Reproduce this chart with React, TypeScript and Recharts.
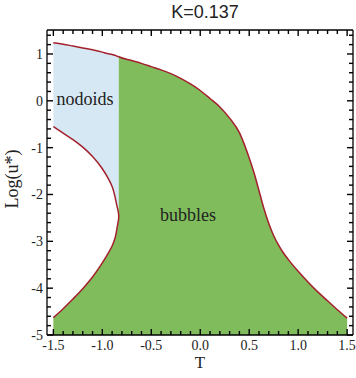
import React from 'react';
import { ComposedChart, Area, Line, XAxis, YAxis } from 'recharts';

// upper boundary curve (T, Log u*)
const upperT = [-1.5, -1.4, -1.3, -1.2, -1.1, -1.0, -0.95, -0.9, -0.87, -0.855, -0.845, -0.838, -0.834, -0.832, -0.7, -0.6, -0.5, -0.4, -0.3, -0.2, -0.1, 0.0, 0.1, 0.2, 0.3, 0.4, 0.45, 0.5, 0.55, 0.6, 0.65, 0.7, 0.75, 0.8, 0.85, 0.9, 1.0, 1.1, 1.2, 1.3, 1.4, 1.5];
const upperL = [1.24, 1.21, 1.17, 1.13, 1.09, 1.04, 1.01, 0.99, 0.97, 0.96, 0.95, 0.945, 0.942, 0.94, 0.86, 0.8, 0.73, 0.66, 0.58, 0.48, 0.36, 0.22, 0.05, -0.13, -0.37, -0.68, -0.93, -1.22, -1.54, -1.92, -2.3, -2.62, -2.88, -3.08, -3.25, -3.39, -3.64, -3.87, -4.08, -4.27, -4.46, -4.64];

// left "nose" curve, both branches on the same T grid
const noseT = [-1.5, -1.4, -1.3, -1.2, -1.1, -1.0, -0.95, -0.9, -0.87, -0.855, -0.845, -0.838, -0.834, -0.832];
const noseTop = [-0.55, -0.69, -0.83, -0.99, -1.19, -1.45, -1.62, -1.83, -2.05, -2.2, -2.29, -2.36, -2.42, -2.47];
const noseBottom = [-4.63, -4.44, -4.23, -4.01, -3.76, -3.46, -3.29, -3.1, -2.93, -2.78, -2.66, -2.58, -2.52, -2.47];

const xMajor = [-1.5, -1.0, -0.5, 0.0, 0.5, 1.0, 1.5];
const xLabels = ['-1.5', '-1.0', '-0.5', '0.0', '0.5', '1.0', '1.5'];
const yMajor = [-5, -4, -3, -2, -1, 0, 1];
const yLabels = ['-5', '-4', '-3', '-2', '-1', '0', '1'];

const xMinor = Array.from({ length: 31 }, (_, i) => Math.round((-1.5 + i * 0.1) * 10) / 10);
const yMinor = Array.from({ length: 33 }, (_, i) => Math.round((-5 + i * 0.2) * 10) / 10);

const GREEN = '#80bc5c';
const BLUE = '#d6e8f3';
const RED = '#a3202c';
const SERIF = 'Liberation Serif, DejaVu Serif, serif';
const X_DOMAIN = [-1.565, 1.56];
const Y_DOMAIN = [-5, 1.512];

const lowerData = noseT.map((t, i) => ({ t, band: [-5, noseBottom[i]] }));
const upperData = upperT.map((t, i) => ({ t, band: [-5, upperL[i]] })).filter((d) => d.t >= -0.832);
const greenData = [...lowerData, ...upperData];

const blueData = noseT.map((t, i) => ({ t, band: [noseTop[i], upperL[upperT.indexOf(t)]] }));

const upperLine = upperT.map((t, i) => ({ t, v: upperL[i] }));
const noseLine = [
  ...noseT.map((t, i) => ({ t, v: noseTop[i] })),
  ...noseT.slice(0, -1).map((t, i) => ({ t, v: noseBottom[i] })).reverse(),
];

const idx = (arr: number[], v: number) => arr.findIndex((m) => Math.abs(m - v) < 1e-6);

const tickStroke = { stroke: '#000', strokeWidth: 1.4, fill: 'none' };

const BottomTick = (props: any) => {
  const { x, y, payload } = props;
  const k = idx(xMajor, payload.value);
  return (
    <g>
      <path d={`M${x},${y}V${y - (k >= 0 ? 6 : 4)}`} style={tickStroke} />
      {k >= 0 && (
        <text x={x} y={y + 15} textAnchor="middle" fontFamily={SERIF} fontSize={14} fill="#222" stroke="none">
          {xLabels[k]}
        </text>
      )}
    </g>
  );
};

const TopTick = (props: any) => {
  const { x, y, payload } = props;
  const k = idx(xMajor, payload.value);
  return <path d={`M${x},${y}V${y + (k >= 0 ? 6 : 4)}`} style={tickStroke} />;
};

const LeftTick = (props: any) => {
  const { x, y, payload } = props;
  const k = idx(yMajor, payload.value);
  return (
    <g>
      <path d={`M${x},${y}H${x + (k >= 0 ? 6 : 4)}`} style={tickStroke} />
      {k >= 0 && (
        <text x={x - 4} y={y + 5} textAnchor="end" fontFamily={SERIF} fontSize={14} fill="#222" stroke="none">
          {yLabels[k]}
        </text>
      )}
    </g>
  );
};

const RightTick = (props: any) => {
  const { x, y, payload } = props;
  const k = idx(yMajor, payload.value);
  return <path d={`M${x},${y}H${x - (k >= 0 ? 6 : 4)}`} style={tickStroke} />;
};

const txt = { fontFamily: SERIF, fontSize: 18 };

export default function App() {
  return (
    <div style={{ position: 'absolute', left: 0, top: 0, width: 356, height: 378, background: '#fff' }}>
      <ComposedChart width={356} height={378} margin={{ top: 29, right: 2, bottom: 0, left: 0 }}>
        <Area xAxisId="b" yAxisId="l" data={blueData} dataKey="band" type="linear" fill={BLUE} fillOpacity={1} stroke="none" isAnimationActive={false} />
        <Area xAxisId="b" yAxisId="l" data={greenData} dataKey="band" type="linear" fill={GREEN} fillOpacity={1} stroke="none" isAnimationActive={false} />
        <Line xAxisId="b" yAxisId="l" data={upperLine} dataKey="v" type="monotone" stroke={RED} strokeWidth={1.5} dot={false} isAnimationActive={false} />
        <Line xAxisId="b" yAxisId="l" data={noseLine} dataKey="v" type="monotoneY" stroke={RED} strokeWidth={1.5} dot={false} isAnimationActive={false} />
        {/* invisible copy so the mirrored top/right axes get a domain */}
        <Line xAxisId="top" yAxisId="r" data={upperLine} dataKey="v" type="monotone" stroke="none" strokeOpacity={0} dot={false} isAnimationActive={false} />
        <XAxis xAxisId="b" type="number" dataKey="t" domain={X_DOMAIN} allowDataOverflow ticks={xMinor} interval={0}
          tick={BottomTick} tickLine={false} tickSize={0} tickMargin={0} height={43} axisLine={{ stroke: '#000', strokeWidth: 1.3 }} />
        <XAxis xAxisId="top" orientation="top" type="number" dataKey="t" domain={X_DOMAIN} allowDataOverflow ticks={xMinor} interval={0}
          tick={TopTick} tickLine={false} tickSize={0} tickMargin={0} height={1} axisLine={{ stroke: '#000', strokeWidth: 1.3 }} />
        <YAxis yAxisId="l" type="number" domain={Y_DOMAIN} allowDataOverflow ticks={yMinor} interval={0}
          tick={LeftTick} tickLine={false} tickSize={0} tickMargin={0} width={47} axisLine={{ stroke: '#000', strokeWidth: 1.3 }} />
        <YAxis yAxisId="r" orientation="right" type="number" domain={Y_DOMAIN} allowDataOverflow ticks={yMinor} interval={0}
          tick={RightTick} tickLine={false} tickSize={0} tickMargin={0} width={1} axisLine={{ stroke: '#000', strokeWidth: 1.3 }} />
      </ComposedChart>
      <svg width={356} height={378} style={{ position: 'absolute', left: 0, top: 0, pointerEvents: 'none' }}>
        <text x={205} y={18} textAnchor="middle" style={{ fontFamily: 'Liberation Sans, Arial, sans-serif', fontSize: 18 }} fill="#222">K=0.137</text>
        <text x={85} y={105} textAnchor="middle" style={txt} fill="#222">nodoids</text>
        <text x={188} y={221} textAnchor="middle" style={txt} fill="#222">bubbles</text>
        <text x={200} y={368} textAnchor="middle" style={{ fontFamily: SERIF, fontSize: 17 }} fill="#222">T</text>
        <text x={18} y={179} textAnchor="middle" style={txt} fill="#222" transform="rotate(-90 18 179)">Log(u*)</text>
      </svg>
    </div>
  );
}
